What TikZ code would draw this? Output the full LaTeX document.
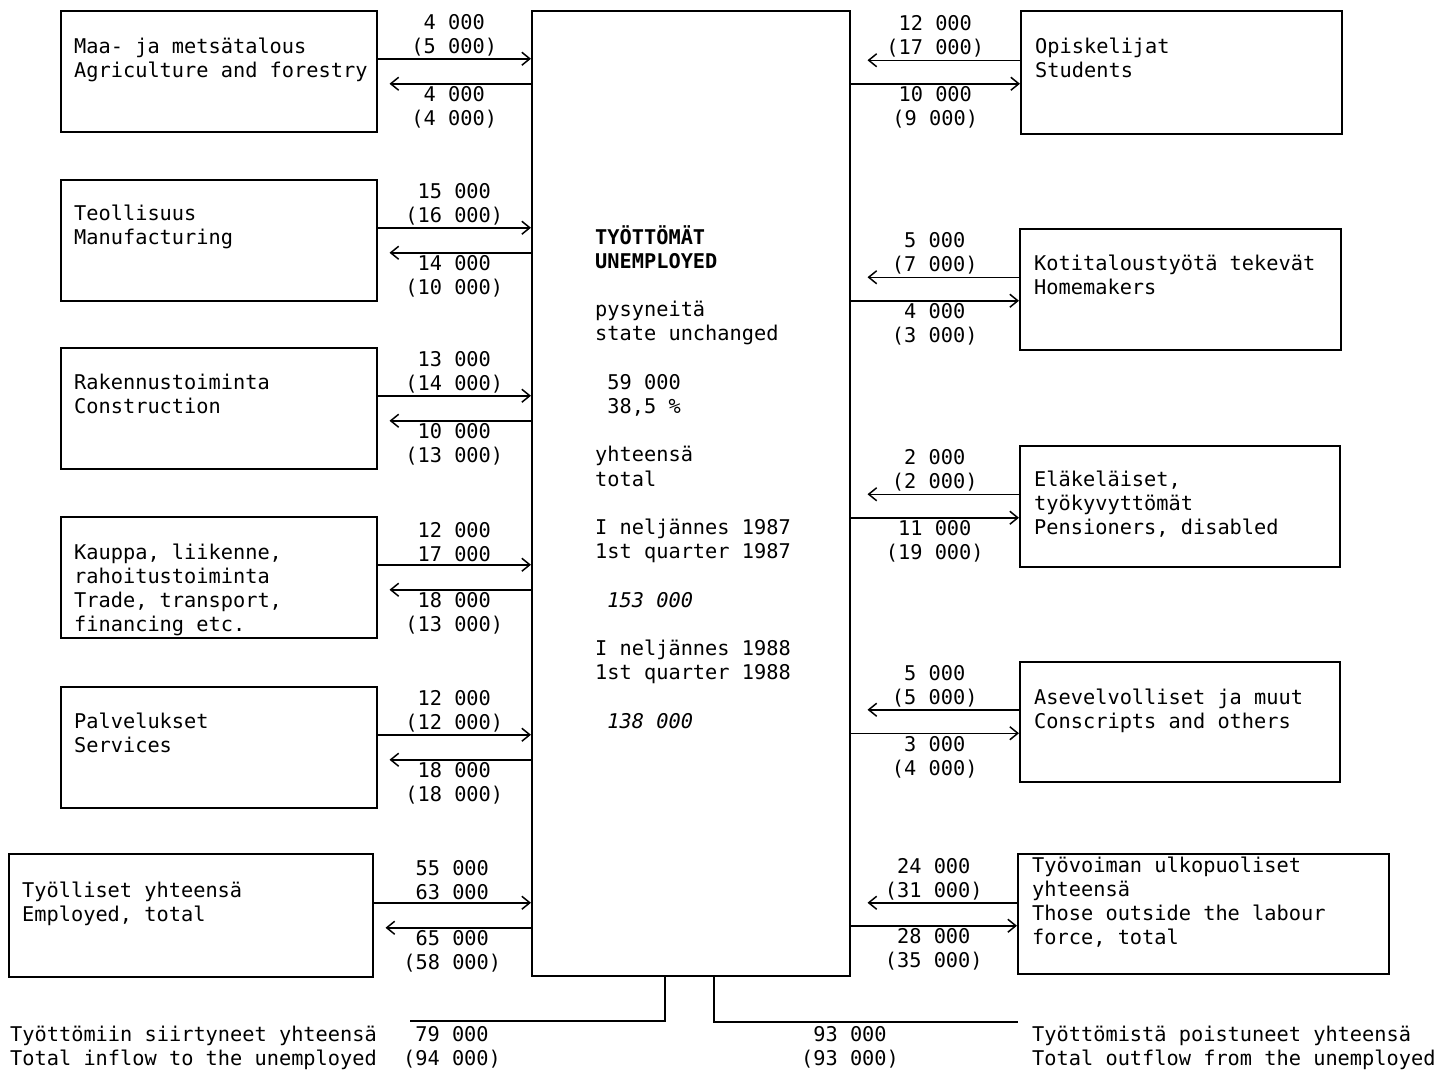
\documentclass[tikz,border=0pt]{standalone}
\usepackage{fontspec}
\setmainfont{DejaVu Sans Mono}
\usetikzlibrary{arrows.meta}

\tikzset{
    sector/.style={draw, line width=1.5pt, minimum width=316pt, minimum height=121pt,
                   anchor=north west, inner sep=0pt},
}

\begin{document}
\begin{tikzpicture}[x=1pt, y=-1pt, font=\fontsize{20.3}{24.2}\selectfont]
\useasboundingbox (0,0) rectangle (1446,1074);

\begin{scope}[every node/.style={sector}]
    \node (agr) at (60, 10) {};
    \node (manu) at (60, 179) {};
    \node (constr) at (60, 347) {};
    \node (trade) at (60, 516) {};
    \node (serv) at (60, 686) {};
    \node (empl) at (8, 853) [minimum width=364pt, minimum height=123pt] {};

    \node (unemp) at (531, 10) [minimum width=318pt, minimum height=965pt] {};

    \node (stud) at (1020, 10) [minimum width=321pt, minimum height=123pt] {};
    \node (home) at (1019, 228) [minimum width=321pt] {};
    \node (pens) at (1019, 445) [minimum width=320pt] {};
    \node (consc) at (1019, 661) [minimum width=320pt, minimum height=120pt] {};
    \node (outside) at (1017, 853) [minimum width=371pt, minimum height=120pt] {};
\end{scope}

% base of a text block = base of its last line
\begin{scope}[every node/.style={anchor=base west, align=left, inner sep=0pt}]
    \node (agrtxt) at ([shift={(14,67.2)}]agr.north west) {Maa- ja metsätalous\\Agriculture and forestry};
    \node (manutxt) at ([shift={(14,65.2)}]manu.north west) {Teollisuus\\Manufacturing};
    \node (constrtxt) at ([shift={(14,66.2)}]constr.north west) {Rakennustoiminta\\Construction};
    \node (tradetxt) at ([shift={(14,115.6)}]trade.north west) {Kauppa, liikenne,\\rahoitustoiminta\\Trade, transport,\\financing etc.};
    \node (servtxt) at ([shift={(14,66.2)}]serv.north west) {Palvelukset\\Services};
    \node (empltxt) at ([shift={(14,68.2)}]empl.north west) {Työlliset yhteensä\\Employed, total};

    \node (studtxt) at ([shift={(15,67.2)}]stud.north west) {Opiskelijat\\Students};
    \node (hometxt) at ([shift={(15,66.2)}]home.north west) {Kotitaloustyötä tekevät\\Homemakers};
    \node (penstxt) at ([shift={(15,89.4)}]pens.north west) {Eläkeläiset,\\työkyvyttömät\\Pensioners, disabled};
    \node (consctxt) at ([shift={(15,67.2)}]consc.north west) {Asevelvolliset ja muut\\Conscripts and others};
    \node (outsidetxt) at ([shift={(15,91.6)}]outside.north west) {Työvoiman ulkopuoliset\\yhteensä\\Those outside the labour\\force, total};

    \node (unemptxt) at ([shift={(64,718)}]unemp.north west)
        {\textbf{TYÖTTÖMÄT}\\\textbf{UNEMPLOYED}\\\mbox{}\\pysyneitä\\state unchanged\\\mbox{}\\
         \hphantom{0}59 000\\\hphantom{0}38,5 \%\\\mbox{}\\yhteensä\\total\\\mbox{}\\
         I neljännes 1987\\1st quarter 1987\\\mbox{}\\\hphantom{0}\textit{153 000}\\\mbox{}\\
         I neljännes 1988\\1st quarter 1988\\\mbox{}\\\hphantom{0}\textit{138 000}};

    \node (intxt) at (10, 1065.2) {Työttömiin siirtyneet yhteensä\\Total inflow to the unemployed};
    \node (outtxt) at (1032, 1065.2) {Työttömistä poistuneet yhteensä\\Total outflow from the unemployed};
\end{scope}

\begin{scope}[>={Straight Barb[length=8pt,width=13pt]},
              every node/.style={align=center, inner sep=2pt},
              every edge/.style={draw, line width=1.5pt}]
    % inflow to the unemployed, left
    \path [->] ([yshift=12.5pt]agr.east) edge node[above] {4 000\\(5 000)} ([yshift=12.5pt]agr.east -| unemp.west);
    \path [->] ([yshift=-12.5pt]agr.east -| unemp.west) edge[shorten >=12pt] node[below] {4 000\\(4 000)} ([yshift=-12.5pt]agr.east);

    \path [->] ([yshift=12.5pt]manu.east) edge node[above] {15 000\\(16 000)} ([yshift=12.5pt]manu.east -| unemp.west);
    \path [->] ([yshift=-12.5pt]manu.east -| unemp.west) edge[shorten >=12pt] node[below] {14 000\\(10 000)} ([yshift=-12.5pt]manu.east);

    \path [->] ([yshift=12.5pt]constr.east) edge node[above] {13 000\\(14 000)} ([yshift=12.5pt]constr.east -| unemp.west);
    \path [->] ([yshift=-12.5pt]constr.east -| unemp.west) edge[shorten >=12pt] node[below] {10 000\\(13 000)} ([yshift=-12.5pt]constr.east);

    \path [->] ([yshift=12.5pt]trade.east) edge node[above] {12 000\\17 000} ([yshift=12.5pt]trade.east -| unemp.west);
    \path [->] ([yshift=-12.5pt]trade.east -| unemp.west) edge[shorten >=12pt] node[below] {18 000\\(13 000)} ([yshift=-12.5pt]trade.east);

    \path [->] ([yshift=12.5pt]serv.east) edge node[above] {12 000\\(12 000)} ([yshift=12.5pt]serv.east -| unemp.west);
    \path [->] ([yshift=-12.5pt]serv.east -| unemp.west) edge[shorten >=12pt] node[below] {18 000\\(18 000)} ([yshift=-12.5pt]serv.east);

    \path [->] ([yshift=12.5pt]empl.east) edge node[above] {55 000\\63 000} ([yshift=12.5pt]empl.east -| unemp.west);
    \path [->] ([yshift=-12.5pt]empl.east -| unemp.west) edge[shorten >=12pt] node[below] {65 000\\(58 000)} ([yshift=-12.5pt]empl.east);

    % outside the labour force, right
    \path [->] ([yshift=12pt]stud.west) edge[shorten >=17pt] node[above] {12 000\\(17 000)} ([yshift=12pt]stud.west -| unemp.east);
    \path [->] ([yshift=-11.5pt]stud.west -| unemp.east) edge node[below] {10 000\\(9 000)} ([yshift=-11.5pt]stud.west);

    \path [->] ([yshift=12pt]home.west) edge[shorten >=17pt] node[above] {5 000\\(7 000)} ([yshift=12pt]home.west -| unemp.east);
    \path [->] ([yshift=-11.5pt]home.west -| unemp.east) edge node[below] {4 000\\(3 000)} ([yshift=-11.5pt]home.west);

    \path [->] ([yshift=12pt]pens.west) edge[shorten >=17pt] node[above] {2 000\\(2 000)} ([yshift=12pt]pens.west -| unemp.east);
    \path [->] ([yshift=-11.5pt]pens.west -| unemp.east) edge node[below] {11 000\\(19 000)} ([yshift=-11.5pt]pens.west);

    \path [->] ([yshift=12pt]consc.west) edge[shorten >=17pt] node[above] {5 000\\(5 000)} ([yshift=12pt]consc.west -| unemp.east);
    \path [->] ([yshift=-11.5pt]consc.west -| unemp.east) edge node[below] {3 000\\(4 000)} ([yshift=-11.5pt]consc.west);

    \path [->] ([yshift=11pt]outside.west) edge[shorten >=17pt] node[above] {24 000\\(31 000)} ([yshift=11pt]outside.west -| unemp.east);
    \path [->] ([yshift=-12pt]outside.west -| unemp.east) edge node[below] {28 000\\(35 000)} ([yshift=-12pt]outside.west);
\end{scope}

% totals under the box
\coordinate (inend) at (410, 1021);
\coordinate (outend) at (1018, 1022);
\draw [line width=1.5pt] ([xshift=-26pt]unemp.south) |- (inend);
\draw [line width=1.5pt] ([xshift=23pt]unemp.south) |- (outend);
\node (intotal) at ([shift={(42,44.2)}]inend) [anchor=base, align=center, inner sep=0pt] {79 000\\(94 000)};
\node (outtotal) at ([shift={(-168,43.2)}]outend) [anchor=base, align=center, inner sep=0pt] {93 000\\(93 000)};
\end{tikzpicture}
\end{document}
